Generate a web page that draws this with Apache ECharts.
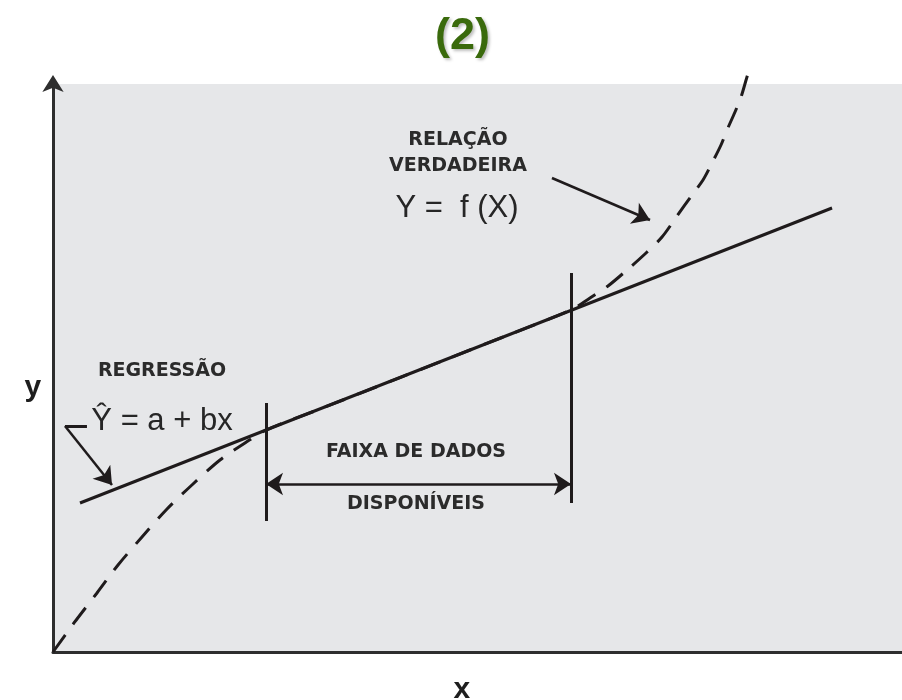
<!DOCTYPE html>
<html>
<head>
<meta charset="utf-8">
<script src="https://cdn.jsdelivr.net/npm/echarts@6/dist/echarts.min.js"></script>
<style>html,body{margin:0;padding:0;background:#fff}#c{width:902px;height:700px}</style>
</head>
<body>
<div id="c"></div>
<script>
// ---- data (x: 0..100, y: 0..100 in chart units) ----
const regressionX = [3.18, 91.76];
const regressionY = [26.23, 78.17];

const curveX = [0, 2.47, 5.18, 7.66, 10.48, 13.43, 16.49, 19.67, 22.61, 25.09, 31.45, 40.87, 50.29, 61.01, 63.25, 65.37, 67.61, 69.85, 71.73, 73.50, 75.27, 76.56, 77.62, 78.68, 79.39, 80.33, 81.04, 81.74, 82.10];
const curveY = [0, 5.11, 10.39, 15.32, 20.25, 25.18, 29.58, 33.80, 36.80, 39.08, 42.78, 48.31, 53.87, 60.21, 62.32, 64.44, 67.25, 70.25, 73.06, 76.76, 80.46, 83.10, 86.09, 89.26, 91.90, 95.07, 97.71, 101.23, 102.82];

// data range limits (vertical bars)
const rangeX = [25.09, 61.01];
const rangeTop = [43.84, 66.73];
const rangeBottom = [23.06, 26.23];
const rangeArrowY = 29.58;
const rangeArrowX = [25.09, 61.01];

// pointer arrows [from, to]
const pointerTrue = [[58.77, 83.45], [70.32, 76.06]];
const pointerRegHook = [[4.00, 39.79], [1.41, 39.79]];
const pointerReg = [[1.41, 39.79], [6.95, 29.40]];

// annotations
const labelTexts = ['RELAÇÃO', 'VERDADEIRA', 'Y =  f (X)', 'REGRESSÃO', 'Ŷ = a + bx', 'FAIXA DE DADOS', 'DISPONÍVEIS', 'y', 'x'];
const labelX = [47.70, 47.70, 47.59, 12.84, 12.84, 42.76, 42.76, -2.36, 48.17];
const labelY = [90.14, 85.56, 78.17, 49.47, 40.58, 35.21, 26.06, 46.5, -6.6];
const labelKind = ['small', 'small', 'big', 'small', 'big', 'small', 'small', 'axis', 'axis'];

const INK = '#1f1b1c';
const styles = {
  small: { fontSize: 19, fontWeight: 'bold', fontFamily: 'DejaVu Sans', color: '#2b2b2b' },
  big: { fontSize: 31, fontWeight: 'normal', fontFamily: 'Liberation Sans', color: '#262626' },
  axis: { fontSize: 30, fontWeight: 'bold', fontFamily: 'Liberation Sans', color: '#1e1e1e' }
};

const chart = echarts.init(document.getElementById('c'), null, { renderer: 'canvas' });

const option = {
  animation: false,
  backgroundColor: '#fff',
  title: {
    text: '(2)',
    left: 430,
    top: 9,
    textStyle: {
      color: '#3a6a0c', fontSize: 45, fontWeight: 'bold', fontFamily: 'Liberation Sans',
      textShadowColor: 'rgba(0,0,0,0.25)', textShadowBlur: 3, textShadowOffsetX: 2, textShadowOffsetY: 2
    }
  },
  grid: {
    left: 53, right: 0, top: 84, bottom: 48,
    show: true, backgroundColor: '#e6e7e9', borderWidth: 0
  },
  xAxis: {
    type: 'value', min: 0, max: 100,
    axisLine: { show: true, lineStyle: { color: '#2e2e2e', width: 3 } },
    axisTick: { show: false }, axisLabel: { show: false }, splitLine: { show: false }
  },
  yAxis: {
    type: 'value', min: 0, max: 100,
    axisLine: {
      show: true, symbol: ['none', 'arrow'], symbolSize: [16, 17], symbolOffset: [0, 9],
      lineStyle: { color: '#2e2e2e', width: 3 }
    },
    axisTick: { show: false }, axisLabel: { show: false }, splitLine: { show: false }
  },
  series: [
    {
      type: 'line', name: 'regressao',
      data: regressionX.map((x, i) => [x, regressionY[i]]),
      symbol: 'none', lineStyle: { color: INK, width: 3 }, z: 3
    },
    {
      type: 'line', name: 'verdadeira', smooth: 0.3, clip: false,
      data: curveX.map((x, i) => [x, curveY[i]]),
      symbol: 'none', lineStyle: { color: INK, width: 3, type: [21, 13] }, z: 2
    },
    {
      type: 'lines', coordinateSystem: 'cartesian2d', symbol: 'none',
      lineStyle: { color: INK, width: 3, opacity: 1 },
      data: [
        { coords: [[rangeX[0], rangeTop[0]], [rangeX[0], rangeBottom[0]]] },
        { coords: [[rangeX[1], rangeTop[1]], [rangeX[1], rangeBottom[1]]] },
        { coords: pointerRegHook }
      ]
    },
    {
      type: 'lines', coordinateSystem: 'cartesian2d', symbol: ['arrow', 'arrow'], symbolSize: 17,
      lineStyle: { color: INK, width: 2.5, opacity: 1 },
      data: [{ coords: [[rangeArrowX[0], rangeArrowY], [rangeArrowX[1], rangeArrowY]] }]
    },
    {
      type: 'lines', coordinateSystem: 'cartesian2d', symbol: ['none', 'arrow'], symbolSize: 17,
      lineStyle: { color: INK, width: 2.5, opacity: 1 },
      data: [{ coords: pointerTrue }, { coords: pointerReg }]
    },
    {
      type: 'scatter', clip: false, symbolSize: 0, silent: true,
      itemStyle: { color: '#222', opacity: 1 },
      data: labelTexts.map((t, i) => ({
        name: t, value: [labelX[i], labelY[i]],
        label: Object.assign({
          show: true, position: 'inside', formatter: t, align: 'center', verticalAlign: 'middle',
          textBorderWidth: 0, textBorderColor: 'transparent', opacity: 1
        }, styles[labelKind[i]])
      })),
      z: 5
    }
  ]
};
chart.setOption(option);
</script>
</body>
</html>
